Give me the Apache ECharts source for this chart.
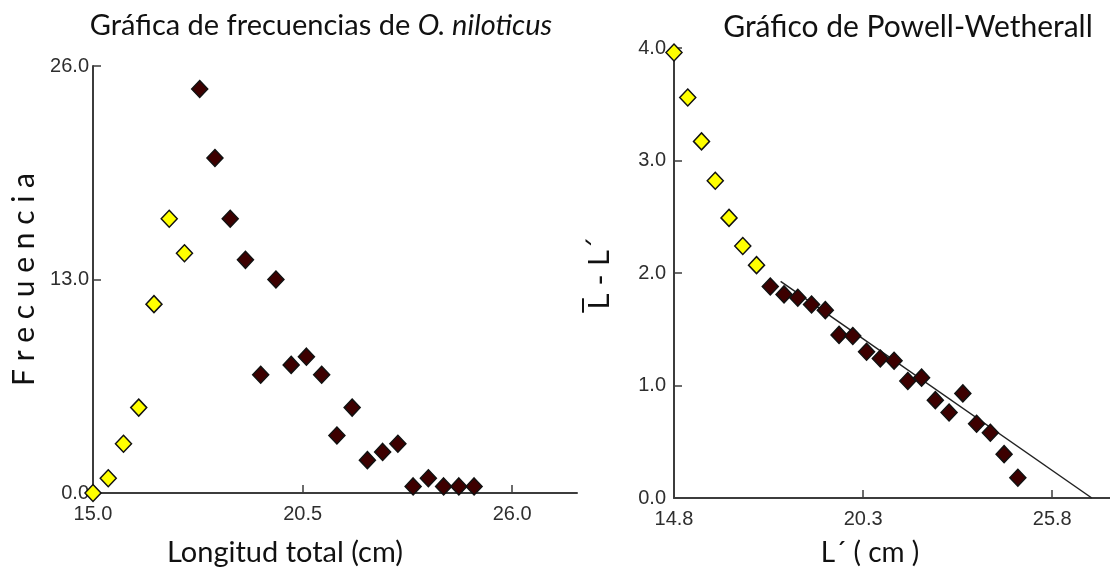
<!DOCTYPE html>
<html>
<head>
<meta charset="utf-8">
<script src="https://cdn.jsdelivr.net/npm/echarts@6/dist/echarts.min.js"></script>
<style>
html,body{margin:0;padding:0;background:#fff;}
#chart{width:1110px;height:575px;}
</style>
</head>
<body>
<div id="chart"></div>
<script>
// Left chart: length-frequency of O. niloticus
const freqLengthsYellow = [15.0, 15.4, 15.8, 16.2, 16.6, 17.0, 17.4];
const freqValuesYellow  = [0.0, 0.9, 3.0, 5.2, 11.5, 16.7, 14.6];
const freqLengthsMaroon = [17.8, 18.2, 18.6, 19.0, 19.4, 19.8, 20.2, 20.6, 21.0, 21.4, 21.8, 22.2, 22.6, 23.0, 23.4, 23.8, 24.2, 24.6, 25.0];
const freqValuesMaroon  = [24.6, 20.4, 16.7, 14.2, 7.2, 13.0, 7.8, 8.3, 7.2, 3.5, 5.2, 2.0, 2.5, 3.0, 0.4, 0.9, 0.4, 0.4, 0.4];
const freqXTicks = [15.0, 20.5, 26.0];
const freqYTicks = [0.0, 13.0, 26.0];

// Right chart: Powell-Wetherall plot
const pwLengthsYellow = [14.8, 15.2, 15.6, 16.0, 16.4, 16.8, 17.2];
const pwValuesYellow  = [3.96, 3.56, 3.17, 2.82, 2.49, 2.24, 2.07];
const pwLengthsMaroon = [17.6, 18.0, 18.4, 18.8, 19.2, 19.6, 20.0, 20.4, 20.8, 21.2, 21.6, 22.0, 22.4, 22.8, 23.2, 23.6, 24.0, 24.4, 24.8];
const pwValuesMaroon  = [1.88, 1.81, 1.78, 1.72, 1.67, 1.45, 1.44, 1.30, 1.24, 1.22, 1.04, 1.07, 0.87, 0.76, 0.93, 0.66, 0.58, 0.39, 0.18];
const fitX = [17.9, 26.95];
const fitY = [1.925, 0.0];
const pwXTicks = [14.8, 20.3, 25.8];
const pwYTicks = [0.0, 1.0, 2.0, 3.0, 4.0];

const zip = (xs, ys) => xs.map((x, i) => [x, ys[i]]);

const YELLOW = '#ffff00';
const MAROON = '#3d0000';
const AXIS = '#3c3c3c';
const LABEL = '#2e2e2e';
const FONT = 'Lato, "Open Sans", sans-serif';
const TICKFONT = '"Liberation Sans", Arial, sans-serif';

function xAxisCfg(gridIndex, min, max, ticks) {
  return {
    type: 'value', gridIndex, min, max,
    axisLine: {show: true, onZero: false, lineStyle: {color: AXIS, width: 2}},
    axisTick: {show: true, inside: true, length: 8, customValues: ticks, lineStyle: {color: AXIS, width: 1.5}},
    axisLabel: {customValues: ticks, margin: 11, color: LABEL, fontSize: 20, fontFamily: TICKFONT,
      formatter: v => v.toFixed(1)},
    splitLine: {show: false}
  };
}
function yAxisCfg(gridIndex, min, max, ticks, name, nameGap, nameStyle, margin) {
  return {
    type: 'value', gridIndex, min, max,
    name, nameLocation: 'middle', nameRotate: 90, nameGap, nameTextStyle: nameStyle,
    axisLine: {show: true, onZero: false, lineStyle: {color: AXIS, width: 2}},
    axisTick: {show: true, inside: true, length: 8, customValues: ticks, lineStyle: {color: AXIS, width: 1.5}},
    axisLabel: {customValues: ticks, margin, color: LABEL, fontSize: 20, fontFamily: TICKFONT,
      formatter: v => v.toFixed(1)},
    splitLine: {show: false}
  };
}
function scatter(xi, data, color) {
  return {
    type: 'scatter', xAxisIndex: xi, yAxisIndex: xi, data,
    symbol: 'diamond', symbolSize: [16, 17], z: 3,
    itemStyle: {color, opacity: 1, borderColor: '#111', borderWidth: 1.5},
    silent: true
  };
}

const chart = echarts.init(document.getElementById('chart'));
chart.setOption({
  backgroundColor: '#ffffff',
  animation: false,
  grid: [
    {left: 93, top: 66, width: 484, height: 427},
    {left: 674, top: 48, width: 436, height: 450}
  ],
  xAxis: [
    xAxisCfg(0, 15.0, 27.7, freqXTicks),
    xAxisCfg(1, 14.8, 27.48, pwXTicks)
  ],
  yAxis: [
    yAxisCfg(0, 0, 26, freqYTicks, 'F r e c u e n c i a', 54,
      {fontSize: 30, color: '#111', fontFamily: FONT}, 4),
    yAxisCfg(1, 0, 4, pwYTicks, 'L\u0305 - L\u00B4', 58,
      {fontSize: 28, color: '#111', fontFamily: '"DejaVu Sans", sans-serif'}, 8)
  ],
  series: [
    scatter(0, zip(freqLengthsYellow, freqValuesYellow), YELLOW),
    scatter(0, zip(freqLengthsMaroon, freqValuesMaroon), MAROON),
    {
      type: 'line', xAxisIndex: 1, yAxisIndex: 1, data: zip(fitX, fitY),
      showSymbol: false, symbol: 'none', z: 2,
      lineStyle: {color: '#222', width: 1.5}, silent: true
    },
    scatter(1, zip(pwLengthsYellow, pwValuesYellow), YELLOW),
    scatter(1, zip(pwLengthsMaroon, pwValuesMaroon), MAROON)
  ],
  graphic: [
    {type: 'text', x: 321, y: 26, style: {
      text: '{a|Gráfica de frecuencias de }{b|O. niloticus}',
      align: 'center', verticalAlign: 'middle',
      rich: {a: {fontSize: 29, fontFamily: FONT, fill: '#111'}, b: {fontSize: 29, fontFamily: FONT, fontStyle: 'italic', fill: '#111'}}
    }},
    {type: 'text', x: 908, y: 27, style: {
      text: 'Gráfico de Powell-Wetherall', align: 'center', verticalAlign: 'middle',
      fontSize: 30, fontFamily: FONT, fill: '#111'
    }},
    {type: 'text', x: 285, y: 553, style: {
      text: 'Longitud total (cm)', align: 'center', verticalAlign: 'middle',
      fontSize: 29, fontFamily: FONT, fill: '#111'
    }},
    {type: 'text', x: 870, y: 553, style: {
      text: 'L\u00B4 ( cm )', align: 'center', verticalAlign: 'middle',
      fontSize: 28, fontFamily: FONT, fill: '#111'
    }}
  ]
});
</script>
</body>
</html>
